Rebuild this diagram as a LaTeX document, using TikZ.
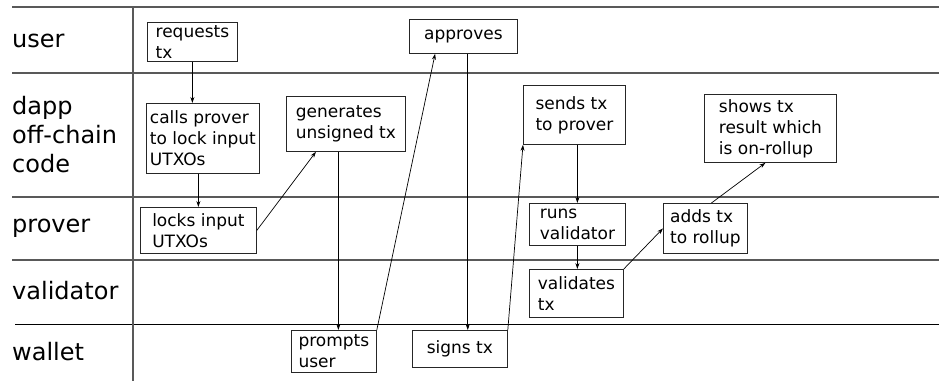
\documentclass[tikz,border=0pt]{standalone}
\usepackage{fontspec}
\setmainfont{DejaVu Sans}
\usepackage{tikz}
\usetikzlibrary{positioning, calc, arrows.meta}

\begin{document}
\begin{tikzpicture}[x=1pt, y=-1pt,
        lane/.style={align=left, anchor=west, inner sep=0pt, font=\fontsize{24}{29}\selectfont},
        action/.style={draw=black!85, line width=0.8pt, align=left, anchor=north west, inner sep=1pt, font=\fontsize{17}{21}\selectfont},
        lanerule/.style={draw=black!65, line width=1.2pt},
        flow/.style={draw=black, line width=0.7pt, -{Stealth[length=6pt, width=4pt]}}]
        \useasboundingbox (0,0) rectangle (939,381);

        % swimlanes
        \draw[lanerule] (12,7) -- (939,7);
        \draw[lanerule] (12,73) -- (939,73);
        \draw[lanerule] (12,197) -- (939,197);
        \draw[lanerule] (12,260) -- (939,260);
        \draw[draw=black, line width=0.8pt] (15,324) -- (939,324);
        \draw[lanerule] (133,7) -- (133,381);

        \node[lane] (user) at (12,41) {user};
        \node[lane] (dapp) at (12,135) {dapp\\off-chain\\code};
        \node[lane] (prover) at (12,228) {prover};
        \node[lane] (validator) at (12,291) {validator};
        \node[lane] (wallet) at (12,352) {wallet};

        % steps
        \node[action, minimum width=90pt, minimum height=39pt] (req) at (147,22) {requests\\tx};
        \node[action, minimum width=113pt, minimum height=70pt] (calls) at (146,103) {calls prover\\to lock input\\UTXOs};
        \node[action, minimum width=116pt, minimum height=46pt] (locks) at (140,207) {locks input\\UTXOs};
        \node[action, minimum width=119pt, minimum height=55pt] (gen) at (286,96) {generates\\unsigned tx};
        \node[action, minimum width=85pt, minimum height=42pt] (prompts) at (291,330) {prompts\\user};
        \node[action, minimum width=108pt, minimum height=34pt] (appr) at (409,19) {approves};
        \node[action, minimum width=95pt, minimum height=37pt] (signs) at (412,330) {signs tx};
        \node[action, minimum width=102pt, minimum height=59pt] (sends) at (523,85) {sends tx\\to prover};
        \node[action, minimum width=96pt, minimum height=42pt] (runs) at (529,203) {runs\\validator};
        \node[action, minimum width=94pt, minimum height=48pt] (validates) at (529,269) {validates\\tx};
        \node[action, minimum width=84pt, minimum height=50pt] (adds) at (663,203) {adds tx\\to rollup};
        \node[action, minimum width=132pt, minimum height=68pt] (shows) at (704,94) {shows tx\\result which\\is on-rollup};

        % arrows
        \coordinate (genfoot) at ($(gen.south west)!0.25!(gen.south east)$);
        \coordinate (apprin) at ($(appr.south west)!0.24!(appr.south east)$);
        \coordinate (approut) at ($(appr.south west)!0.54!(appr.south east)$);
        \draw[flow] (req.south) -- (req.south |- calls.north);
        \draw[flow] (calls.south -| locks.north) -- (locks.north);
        \draw[flow] (locks.east) -- (genfoot);
        \draw[flow] ([xshift=4.5pt]prompts.north |- gen.south) -- ([xshift=4.5pt]prompts.north);
        \draw[flow] (prompts.north east) -- (apprin);
        \draw[flow] (approut) -- (approut |- signs.north);
        \draw[flow] (signs.north east) -- (sends.south west);
        \draw[flow] (sends.south -| runs.north) -- (runs.north);
        \draw[flow] (runs.south) -- (runs.south |- validates.north);
        \draw[flow] (validates.north east) -- (adds.west);
        \draw[flow] ([xshift=6pt]adds.north) -- ([xshift=-5pt]shows.south);
\end{tikzpicture}
\end{document}
